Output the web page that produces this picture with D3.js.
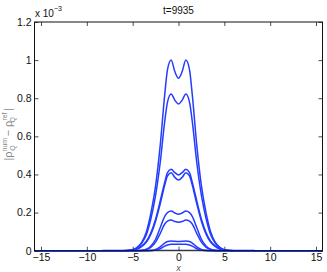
<!DOCTYPE html>
<html>
<head>
<meta charset="utf-8">
<script src="https://cdn.jsdelivr.net/npm/d3@7"></script>
<style>
  body { margin: 0; background: #fff; }
  text { font-family: "Liberation Sans", Arial, sans-serif; }
</style>
</head>
<body>
<div id="chart"></div>
<script>
// sample positions along x (same for every snapshot)
var xs = [-15.7, -8, -6, -5, -4.5, -4, -3.5, -3, -2.5, -2, -1.5, -1.2, -0.8, -0.4, 0,
          0.4, 0.8, 1.2, 1.5, 2, 2.5, 3, 3.5, 4, 4.5, 5, 6, 8, 15.7];

// |rho_num - rho_ref| in units of 1e-3
var s1 = [0, 0, 0, 0.005, 0.018, 0.045, 0.10, 0.20, 0.34, 0.55, 0.82, 0.95, 1.0, 0.94, 0.905,
          0.94, 1.0, 0.95, 0.82, 0.55, 0.34, 0.20, 0.10, 0.045, 0.018, 0.005, 0, 0, 0];
var s2 = [0, 0, 0, 0.005, 0.016, 0.04, 0.085, 0.17, 0.29, 0.46, 0.68, 0.78, 0.822, 0.79, 0.77,
          0.79, 0.822, 0.78, 0.68, 0.46, 0.29, 0.17, 0.085, 0.04, 0.016, 0.005, 0, 0, 0];
var s3 = [0, 0, 0, 0.004, 0.01, 0.025, 0.05, 0.095, 0.165, 0.26, 0.36, 0.41, 0.427, 0.41, 0.397,
          0.41, 0.427, 0.41, 0.36, 0.26, 0.165, 0.095, 0.05, 0.025, 0.01, 0.004, 0, 0, 0];
var s4 = [0, 0, 0, 0.003, 0.009, 0.022, 0.045, 0.088, 0.155, 0.245, 0.345, 0.392, 0.409, 0.385, 0.371,
          0.385, 0.409, 0.392, 0.345, 0.245, 0.155, 0.088, 0.045, 0.022, 0.009, 0.003, 0, 0, 0];
var s5 = [0, 0, 0, 0, 0, 0.002, 0.008, 0.025, 0.06, 0.12, 0.18, 0.2, 0.208, 0.198, 0.191,
          0.198, 0.208, 0.2, 0.18, 0.12, 0.06, 0.025, 0.008, 0.002, 0, 0, 0, 0, 0];
var s6 = [0, 0, 0, 0, 0, 0.001, 0.006, 0.018, 0.045, 0.09, 0.14, 0.155, 0.161, 0.153, 0.149,
          0.153, 0.161, 0.155, 0.14, 0.09, 0.045, 0.018, 0.006, 0.001, 0, 0, 0, 0, 0];
var s7 = [0, 0, 0, 0, 0, 0, 0, 0.002, 0.007, 0.02, 0.04, 0.048, 0.051, 0.049, 0.048,
          0.049, 0.051, 0.048, 0.04, 0.02, 0.007, 0.002, 0, 0, 0, 0, 0, 0, 0];
var s8 = [0, 0, 0, 0, 0, 0, 0, 0, 0.003, 0.01, 0.024, 0.03, 0.034, 0.034, 0.034,
          0.034, 0.034, 0.03, 0.024, 0.01, 0.003, 0, 0, 0, 0, 0, 0, 0, 0];
var seriesList = [s1, s2, s3, s4, s5, s6, s7, s8];

// faint trace near the floor
var faintX = [-8.3, 8.3];
var faintY = [0.004, 0.004];

var xTicks = [-15, -10, -5, 0, 5, 10, 15];
var yTicks = [0, 0.2, 0.4, 0.6, 0.8, 1, 1.2];

var svgWidth = 327;
var svgHeight = 272;
var margin = { top: 22, right: 4.5, bottom: 21.3, left: 34.5 };
var width = svgWidth - margin.left - margin.right;
var height = svgHeight - margin.top - margin.bottom;

var svg = d3.select("#chart")
  .append("svg")
  .attr("width", svgWidth)
  .attr("height", svgHeight);

var chartGroup = svg.append("g")
  .attr("transform", `translate(${margin.left}, ${margin.top})`);

var xScale = d3.scaleLinear().domain([-15.708, 15.708]).range([0, width]);
var yScale = d3.scaleLinear().domain([0, 1.2]).range([height, 0]);

var line = d3.line()
  .x(d => xScale(d[0]))
  .y(d => yScale(d[1]))
  .curve(d3.curveMonotoneX);

// faint trace
chartGroup.append("path")
  .datum(d3.zip(faintX, faintY))
  .attr("d", line)
  .attr("fill", "none")
  .attr("stroke", "#a9b4f5")
  .attr("stroke-width", 1.2);

// curves
chartGroup.selectAll(".curve")
  .data(seriesList)
  .enter()
  .append("path")
  .attr("class", "curve")
  .attr("d", s => line(d3.zip(xs, s)))
  .attr("fill", "none")
  .attr("stroke", "#233cff")
  .attr("stroke-width", 1.5);

// axes, ticks inside on all four sides
function fmt(d) { return d3.format("")(d).replace("-", "\u2212"); }

chartGroup.append("g")
  .attr("transform", `translate(0, ${height})`)
  .call(d3.axisBottom(xScale).tickValues(xTicks).tickSizeInner(-4).tickSizeOuter(0).tickPadding(3).tickFormat(fmt));
chartGroup.append("g")
  .call(d3.axisTop(xScale).tickValues(xTicks).tickSizeInner(-4).tickSizeOuter(0).tickFormat(""));
chartGroup.append("g")
  .call(d3.axisLeft(yScale).tickValues(yTicks).tickSizeInner(-4).tickSizeOuter(0).tickPadding(3).tickFormat(d3.format("")));
chartGroup.append("g")
  .attr("transform", `translate(${width}, 0)`)
  .call(d3.axisRight(yScale).tickValues(yTicks).tickSizeInner(-4).tickSizeOuter(0).tickFormat(""));

chartGroup.selectAll(".domain").remove();
chartGroup.selectAll(".tick line").attr("stroke", "#222").attr("stroke-width", 0.8);
chartGroup.selectAll(".tick text").attr("font-size", "10.5px").attr("fill", "#111");

chartGroup.append("rect")
  .attr("width", width)
  .attr("height", height)
  .attr("fill", "none")
  .attr("stroke", "#111")
  .attr("stroke-width", 1);

// exponent note
var expo = svg.append("text")
  .attr("x", 35)
  .attr("y", 17)
  .attr("font-size", "10px")
  .attr("fill", "#111");
expo.append("tspan").text("x 10");
expo.append("tspan").attr("dy", -6).attr("font-size", "7px").text("\u22123");

// title
svg.append("text")
  .attr("x", margin.left + width / 2)
  .attr("y", 14)
  .attr("text-anchor", "middle")
  .attr("font-size", "10px")
  .attr("fill", "#111")
  .text("t=9935");

// x label
svg.append("text")
  .attr("x", margin.left + width / 2)
  .attr("y", 271)
  .attr("text-anchor", "middle")
  .attr("font-family", "DejaVu Serif, serif")
  .attr("font-style", "italic")
  .attr("font-size", "9px")
  .attr("fill", "#555")
  .text("x");

// y label
var yl = svg.append("text")
  .attr("transform", `translate(12, ${margin.top + height / 2 - 2}) rotate(-90)`)
  .attr("text-anchor", "middle")
  .attr("font-family", "DejaVu Serif, serif")
  .attr("font-size", "11px")
  .attr("fill", "#888");
yl.append("tspan").text("|\u03c1");
yl.append("tspan").attr("dy", -5).attr("font-size", "7px").text("num");
yl.append("tspan").attr("dx", -13).attr("dy", 8).attr("font-size", "7px").text("Q");
yl.append("tspan").attr("dx", 9).attr("dy", -3).text("\u2212 \u03c1");
yl.append("tspan").attr("dy", -5).attr("font-size", "7px").text("ref");
yl.append("tspan").attr("dx", -10).attr("dy", 8).attr("font-size", "7px").text("Q");
yl.append("tspan").attr("dx", 6).attr("dy", -3).text("|");
</script>
</body>
</html>
